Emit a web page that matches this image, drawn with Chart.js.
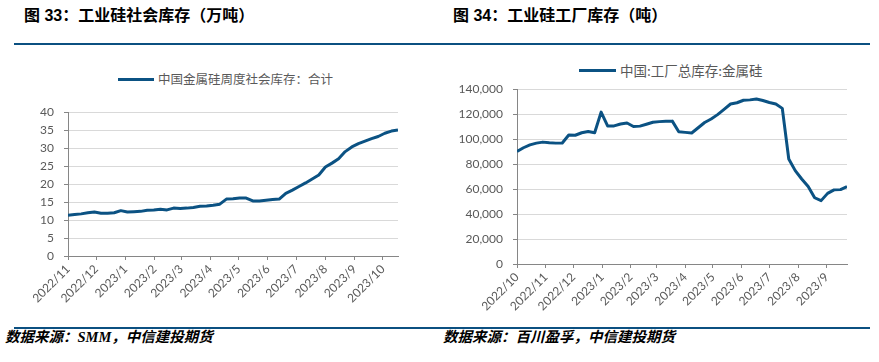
<!DOCTYPE html>
<html>
<head>
<meta charset="utf-8">
<script src="https://cdn.jsdelivr.net/npm/chart.js@4.4.0/dist/chart.umd.min.js"></script>
<style>
	body { margin: 0; width: 879px; height: 362px; background: #fff; position: relative; overflow: hidden; }
	.abs { position: absolute; }
	.title { font: bold 16px "Liberation Sans", "Noto Sans CJK SC", sans-serif; color: #000; line-height: 20px; top: 6px; white-space: nowrap; }
	.rule { background: #0b5081; height: 2px; }
	.src { font: italic bold 14.5px "Liberation Serif", "Noto Sans CJK SC", serif; color: #000; line-height: 18px; top: 328px; white-space: nowrap; }
	.legend { font-family: "Noto Sans CJK SC", sans-serif; color: #595959; white-space: nowrap; }
	.legend i { position: absolute; height: 3px; background: #0b5283; }
</style>
</head>
<body>
<div class="abs title" style="left:24px">图 33：工业硅社会库存（万吨）</div>
<div class="abs title" style="left:453px">图 34：工业硅工厂库存（吨）</div>
<div class="abs rule" style="left:14px; width:856px; top:43px"></div>

<div class="abs legend" style="left:118px; top:71px; font-size:12.5px; line-height:16px">
	<i style="left:0; width:36px; top:7px"></i><span style="margin-left:40px">中国金属硅周度社会库存：合计</span>
</div>
<div class="abs legend" style="left:579px; top:62px; font-size:13.5px; line-height:17px">
	<i style="left:0; width:37px; top:7px"></i><span style="margin-left:41px">中国:工厂总库存:金属硅</span>
</div>

<canvas id="chart-left" class="abs" style="left:0; top:94px; width:440px; height:216px"></canvas>
<canvas id="chart-right" class="abs" style="left:440px; top:71px; width:439px; height:247px"></canvas>

<div class="abs rule" style="left:14px; width:856px; top:327px"></div>
<div class="abs src" style="left:5px">数据来源：SMM，中信建投期货</div>
<div class="abs src" style="left:443px">数据来源：百川盈孚，中信建投期货</div>

<script>
// Data
const socialMonths = ['2022/11', '2022/12', '2023/1', '2023/2', '2023/3', '2023/4', '2023/5', '2023/6', '2023/7', '2023/8', '2023/9', '2023/10'];
// weekly, 万吨
const socialStock = [
	11.3, 11.5, 11.7, 12.0, 12.2, 11.9, 11.9, 12.0, 12.6, 12.2,
	12.3, 12.4, 12.7, 12.8, 13.0, 12.8, 13.3, 13.2, 13.3, 13.5,
	13.8, 13.9, 14.1, 14.4, 15.8, 15.9, 16.1, 16.1, 15.3, 15.3,
	15.5, 15.7, 15.8, 17.4, 18.3, 19.3, 20.3, 21.4, 22.5, 24.7,
	25.8, 27.0, 29.0, 30.3, 31.2, 31.9, 32.6, 33.2, 34.1, 34.7,
	35.0,
];

const factoryMonths = ['2022/10', '2022/11', '2022/12', '2023/1', '2023/2', '2023/3', '2023/4', '2023/5', '2023/6', '2023/7', '2023/8', '2023/9'];
// weekly, 吨
const factoryStock = [
	90000, 93000, 95300, 96700, 97500, 97000, 96700, 96800, 103200, 103000,
	105000, 106000, 105000, 121500, 110500, 110500, 112000, 112800, 110000, 110300,
	111800, 113400, 113900, 114200, 114300, 105800, 105300, 104800, 109000, 113200,
	116000, 119500, 123700, 128000, 129000, 131000, 131300, 132000, 130800, 129200,
	128000, 124500, 84000, 74700, 68000, 62000, 53000, 50700, 56500, 59300,
	59500, 62000,
];

Chart.defaults.font.family = 'Lato, "Noto Sans CJK SC", sans-serif';
Chart.defaults.font.size = 12;
Chart.defaults.color = '#595959';

// days from first week to the same day of each following month
function monthOffsets(y, m, d, n) {
	const start = Date.UTC(y, m, d);
	return Array.from({ length: n }, (_, k) => (Date.UTC(y, m + k, d) - start) / 864e5);
}

function drawChart(id, values, months, start, yMax, yStep, yWidth, pad, fmt) {
	const tickDays = monthOffsets(start[0], start[1], start[2], months.length);
	const points = values.map((v, i) => ({ x: i * 7, y: v }));

	new Chart(document.getElementById(id), {
		type: 'line',
		data: {
			datasets: [
				{
					data: points,
					borderColor: '#0b5283',
					borderWidth: 3,
					pointRadius: 0,
					tension: 0,
					borderJoinStyle: 'round',
				},
			],
		},
		options: {
			responsive: false,
			animation: false,
			layout: { padding: { left: 0, right: pad.right, top: pad.top, bottom: 0 } },
			plugins: { legend: { display: false }, tooltip: { enabled: false } },
			scales: {
				x: {
					type: 'linear',
					min: 0,
					max: (values.length - 1) * 7,
					afterBuildTicks: (scale) => {
						scale.ticks = tickDays.map((v) => ({ value: v }));
					},
					afterFit: (scale) => {
						scale.height = 54;
					},
					ticks: {
						autoSkip: false,
						maxRotation: 45,
						minRotation: 45,
						padding: 2,
						callback: (value, index) => months[index],
					},
					grid: { drawOnChartArea: false, drawTicks: true, tickLength: 4, color: '#868686', tickColor: '#868686' },
					border: { color: '#868686' },
				},
				y: {
					min: 0,
					max: yMax,
					afterFit: (scale) => {
						scale.width = yWidth;
					},
					ticks: { stepSize: yStep, padding: 10, callback: fmt },
					grid: { color: '#d9d9d9', tickColor: '#868686', tickLength: 4 },
					border: { color: '#868686' },
				},
			},
		},
	});
}

const canvasL = document.getElementById('chart-left');
canvasL.width = 440;
canvasL.height = 216;
const canvasR = document.getElementById('chart-right');
canvasR.width = 439;
canvasR.height = 247;

drawChart('chart-left', socialStock, socialMonths, [2022, 10, 4], 40, 5, 68, { right: 42, top: 18 }, (v) => v);
drawChart('chart-right', factoryStock, factoryMonths, [2022, 9, 7], 140000, 20000, 77, { right: 32, top: 18 }, (v) => v.toLocaleString('en-US'));
</script>
</body>
</html>
